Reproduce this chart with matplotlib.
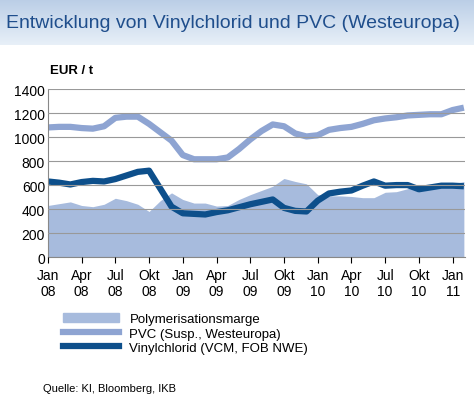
import matplotlib.pyplot as plt
import numpy as np
from matplotlib.lines import Line2D
from matplotlib.patches import Patch

# monthly values Jan 08 .. Feb 11
pvc = [1080, 1085, 1085, 1075, 1070, 1090, 1160, 1170, 1170, 1110, 1040, 970,
       850, 815, 815, 815, 830, 900, 980, 1050, 1105, 1090, 1030, 1005,
       1015, 1060, 1075, 1085, 1110, 1140, 1155, 1165, 1180, 1185, 1190, 1190,
       1225, 1245]
vcm = [630, 620, 605, 625, 635, 630, 650, 680, 710, 720, 570, 420,
       365, 360, 355, 375, 390, 415, 440, 460, 480, 410, 385, 380,
       470, 530, 545, 555, 595, 630, 595, 600, 600, 565, 580, 595,
       595, 590]
margin = [430, 445, 460, 430, 420, 440, 490, 470, 440, 380, 470, 535,
          480, 450, 450, 425, 430, 480, 520, 555, 590, 655, 630, 610,
          520, 510, 510, 505, 495, 495, 540, 545, 570, 590, 600, 600,
          610, 630]
tick_labels = ["Jan\n08", "Apr\n08", "Jul\n08", "Okt\n08", "Jan\n09", "Apr\n09", "Jul\n09",
               "Okt\n09", "Jan\n10", "Apr\n10", "Jul\n10", "Okt\n10", "Jan\n11"]

c_margin = "#a7bbdd"
c_pvc = "#8ea4d2"
c_vcm = "#0d4f8b"
c_title = "#1f4e8c"

plt.rcParams["font.family"] = ["Liberation Sans", "DejaVu Sans"]
fig = plt.figure(figsize=(4.74, 4.02), dpi=100)

# title bar with gradient
tax = fig.add_axes([0, 0.885, 1, 0.115])
grad = np.linspace(0, 1, 256).reshape(-1, 1)
tax.imshow(grad, aspect="auto", cmap=plt.matplotlib.colors.LinearSegmentedColormap.from_list(
    "g", ["#b9cde6", "#e8f0f8"]), extent=[0, 1, 0, 1])
tax.axis("off")
tax.text(0.012, 0.5, "Entwicklung von Vinylchlorid und PVC (Westeuropa)", color=c_title,
         fontsize=14, va="center", ha="left", transform=tax.transAxes)

ax = fig.add_axes([0.101, 0.358, 0.88, 0.418])
x = np.arange(len(pvc))
ax.fill_between(x, 0, margin, color=c_margin, lw=0, label="Polymerisationsmarge")
ax.plot(x, pvc, color=c_pvc, lw=4.5, solid_capstyle="butt")
ax.plot(x, vcm, color=c_vcm, lw=4.5, solid_capstyle="butt")
ax.set_xlim(0, len(pvc) - 1 + 0.1)
ax.set_ylim(0, 1400)
ax.set_yticks(range(0, 1401, 200))
ax.yaxis.grid(True, color="#999999", lw=0.8)
ax.set_axisbelow(False)
ax.set_xticks(range(0, 37, 3))
ax.set_xticklabels(tick_labels, fontsize=10)
ax.tick_params(axis="y", labelsize=10, length=0, pad=2)
ax.tick_params(axis="x", length=4, direction="out")
for s in ["top", "right"]:
    ax.spines[s].set_visible(False)
ax.spines["left"].set_color("#888888")
ax.spines["bottom"].set_color("#888888")
fig.text(0.105, 0.815, "EUR / t", fontsize=9.5, fontweight="bold")

handles = [Patch(color=c_margin, label="Polymerisationsmarge"),
           Line2D([], [], color=c_pvc, lw=4.5, label="PVC (Susp., Westeuropa)"),
           Line2D([], [], color=c_vcm, lw=4.5, label="Vinylchlorid (VCM, FOB NWE)")]
fig.legend(handles=handles, loc="upper left", bbox_to_anchor=(0.12, 0.235), frameon=False,
           fontsize=9.5, handlelength=4.2, labelspacing=0.15, borderpad=0)
fig.text(0.09, 0.025, "Quelle: KI, Bloomberg, IKB", fontsize=8)

fig.savefig("out.png", dpi=100)
